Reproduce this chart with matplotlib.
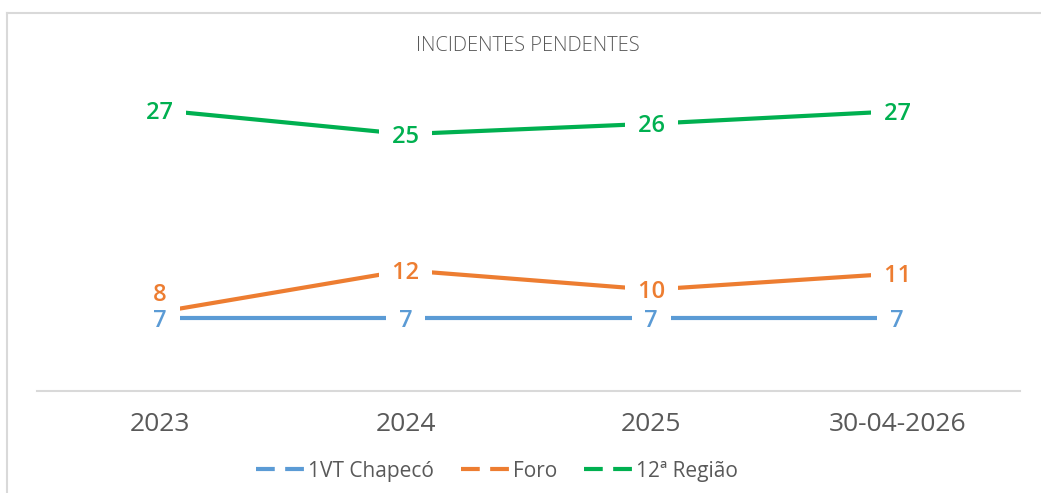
import matplotlib
matplotlib.use("Agg")
import matplotlib.pyplot as plt
from matplotlib.lines import Line2D

plt.rcParams['font.family'] = ['Open Sans', 'DejaVu Sans']
plt.rcParams['lines.scale_dashes'] = False

categories = ["2023", "2024", "2025", "30-04-2026"]
vt_chapeco = [7.0, 7.0, 7.0, 7.0]
foro = [7.6, 11.6, 9.75, 11.3]
regiao12 = [27.0, 24.7, 25.7, 26.9]
series_names = ["1VT Chapecó", "Foro", "12ª Região"]
colors = ["#5B9BD5", "#ED7D31", "#00B050"]
title = "INCIDENTES PENDENTES"

W, H = 1041, 493
fig = plt.figure(figsize=(W / 100, H / 100), dpi=100)
fig.patch.set_facecolor("white")

# chart frame border
fig.add_artist(Line2D([7 / W, 7 / W], [0, 1 - 13 / H], transform=fig.transFigure,
                      color="#d9d9d9", lw=1.5))
fig.add_artist(Line2D([7 / W, 1], [1 - 13 / H, 1 - 13 / H], transform=fig.transFigure,
                      color="#d9d9d9", lw=1.5))

ax = fig.add_axes([37 / W, 102 / H, (1020 - 37) / W, (391 - 79) / H])
x = list(range(len(categories)))
data = [vt_chapeco, foro, regiao12]

for vals, c in zip(data, colors):
    ax.plot(x, vals, color=c, lw=3.0, solid_capstyle="butt", zorder=2)

for si, (vals, c) in enumerate(zip(data, colors)):
    for i, v in enumerate(vals):
        dy = -2
        if si == 1 and i == 0:
            dy = 12
        ax.annotate(f" {v:.0f} ", (i, v), xytext=(0, dy), textcoords="offset points",
                    ha="center", va="center", fontsize=17, color=c,
                    fontweight="semibold", zorder=6 if si == 0 else 5,
                    bbox=dict(facecolor="white", edgecolor="none", pad=5))

ax.set_xlim(-0.5, len(categories) - 0.5)
ax.set_ylim(0, 30)
ax.set_xticks(x)
ax.set_xticklabels(categories, fontsize=19, color="#595959")
ax.tick_params(axis="x", length=0, pad=15)
ax.set_yticks([])
for s in ["top", "left", "right"]:
    ax.spines[s].set_visible(False)
ax.spines["bottom"].set_color("#d9d9d9")
ax.spines["bottom"].set_linewidth(1.5)
ax.set_facecolor("none")

fig.text(528 / W, 1 - 46 / H, title, ha="center", va="center", fontsize=14.5,
         color="#595959", fontweight="light")

handles = [Line2D([0], [0], color=c, lw=3.0, dashes=(13.5, 7.5)) for c in colors]
fig.legend(handles, series_names, loc="center", bbox_to_anchor=(497 / W, 1 - 471 / H),
           ncol=3, frameon=False, fontsize=15, labelcolor="#595959",
           handlelength=2.3, handletextpad=0.2, columnspacing=1.3)

fig.savefig("out.png", dpi=100, facecolor="white")
